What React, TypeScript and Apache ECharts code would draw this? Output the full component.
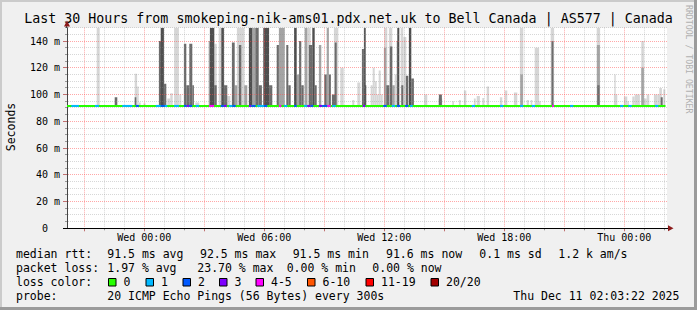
import React, { useEffect, useRef } from 'react';
import * as echarts from 'echarts';

const FONT = "'DejaVu Sans Mono', monospace";
const TITLE = 'Last 30 Hours from smokeping-nik-ams01.pdx.net.uk to Bell Canada | AS577 | Canada';

// x values are hours relative to Wed 00:00
const X_MIN = -3.865;
const X_MAX = 26.135;
const Y_MAX = 150;
const SMOKE_BASE = 91;

const xLabelHours = [0, 6, 12, 18, 24];
const xLabelTexts = ['Wed 00:00', 'Wed 06:00', 'Wed 12:00', 'Wed 18:00', 'Thu 00:00'];
const hourGrid = [-3, -2, -1, 0, 1, 2, 3, 4, 5, 6, 7, 8, 9, 10, 11, 12, 13, 14, 15, 16, 17, 18, 19, 20, 21, 22, 23, 24, 25, 26];
const msGrid = [0, 5, 10, 15, 20, 25, 30, 35, 40, 45, 50, 55, 60, 65, 70, 75, 80, 85, 90, 95, 100, 105, 110, 115, 120, 125, 130, 135, 140, 145, 150];

// median rtt (ms)
const medianRange = [-3.865, 26.06];
const medianValue = 91.5;

// smoke: [startHour, endHour, topMs]
const lightSmoke = [
  [-2.38, -2.23, 150], [-0.48, -0.36, 115.5], [-0.36, -0.28, 106], [-0.27, -0.18, 94], [-0.04, 0.06, 93.5],
  [1.15, 1.3, 97], [1.3, 1.42, 101], [1.49, 1.73, 150], [1.75, 1.85, 100], [2.55, 2.75, 94],
  [3.5, 3.62, 138], [3.72, 3.85, 150], [4.15, 4.3, 99], [4.63, 5.0, 150], [8.15, 8.32, 150],
  [9.48, 9.7, 150], [9.8, 9.97, 120], [10.4, 10.5, 96], [10.65, 10.8, 109],
  [11.32, 11.42, 107], [11.42, 11.52, 120], [11.52, 11.62, 110], [11.62, 11.72, 100], [11.72, 11.82, 118], [11.82, 11.92, 100],
  [12.0, 12.15, 150], [12.23, 12.4, 150], [12.52, 12.62, 115], [12.82, 12.95, 150], [12.95, 13.1, 143],
  [14.0, 14.15, 100], [14.7, 14.9, 97], [15.4, 15.48, 95], [15.73, 15.82, 96], [15.98, 16.1, 103],
  [16.48, 16.57, 97], [16.62, 16.78, 99], [16.9, 16.99, 97.5], [17.12, 17.24, 106], [17.78, 17.9, 98],
  [18.02, 18.15, 103], [18.48, 18.65, 101.5], [18.78, 18.95, 150], [19.12, 19.23, 96], [19.32, 19.4, 96],
  [19.52, 19.74, 135], [19.74, 19.82, 95], [20.32, 20.49, 150], [22.62, 22.79, 150],
  [23.48, 23.65, 100], [23.5, 23.57, 115], [23.98, 24.15, 98.5], [24.15, 24.23, 95], [24.4, 24.52, 98.5],
  [24.52, 24.78, 100], [24.85, 24.98, 140], [24.98, 25.12, 97], [25.12, 25.25, 100], [25.48, 25.65, 100],
  [25.65, 25.78, 100], [25.75, 25.88, 105], [25.95, 26.05, 104],
];
const midSmoke = [
  [3.22, 3.3, 140], [4.52, 4.65, 107], [5.0, 5.15, 107], [5.4, 5.55, 150], [6.73, 7.02, 150],
  [7.62, 7.74, 115], [8.02, 8.15, 150], [8.73, 8.85, 137], [9.12, 9.23, 150], [11.98, 12.1, 135],
  [12.4, 12.52, 107], [12.62, 12.73, 140], [18.8, 18.93, 115], [22.63, 22.78, 137], [24.85, 24.98, 120],
];
const darkSmoke = [
  [-1.48, -1.35, 98], [-0.48, -0.4, 98], [0.73, 0.85, 140], [0.98, 1.1, 108],
  [1.98, 2.1, 138], [2.1, 2.25, 107], [2.25, 2.4, 138], [2.4, 2.48, 107],
  [3.5, 3.62, 107], [3.98, 4.15, 107], [4.38, 4.52, 139], [4.73, 4.85, 137],
  [5.55, 5.72, 150], [5.72, 5.88, 107], [6.24, 6.4, 107], [6.62, 6.73, 137],
  [7.1, 7.2, 137], [7.2, 7.32, 107], [7.74, 7.85, 140], [7.85, 7.97, 107],
  [8.23, 8.4, 137], [8.52, 8.62, 107], [9.0, 9.12, 115], [9.23, 9.33, 115], [9.38, 9.55, 100],
  [9.52, 9.62, 139], [10.88, 10.98, 134], [11.0, 11.1, 107], [12.1, 12.25, 107], [12.28, 12.4, 136],
  [12.85, 12.95, 107], [13.08, 13.2, 114], [13.35, 13.48, 112], [14.73, 14.88, 100],
  [20.36, 20.46, 140], [22.65, 22.76, 107], [25.82, 25.92, 98],
];
const darkestSmoke = [
  [0.82, 0.98, 150], [3.28, 3.5, 150], [3.85, 3.98, 150], [5.23, 5.4, 150], [5.95, 6.24, 150],
  [7.49, 7.62, 150], [8.4, 8.52, 150], [10.98, 11.07, 150], [12.65, 12.75, 150], [13.23, 13.35, 150],
];

// loss colour segments on the median line: [startHour, endHour, lossClass]
const lossSegments = [
  [-3.65, -3.27, 1], [-2.47, -2.27, 1], [-1.1, -0.6, 1], [-0.43, -0.27, 2], [0.57, 0.82, 1], [0.82, 1.03, 2],
  [1.03, 1.15, 1], [1.49, 1.73, 1], [1.98, 2.12, 2], [2.12, 2.24, 3], [2.24, 2.4, 2], [2.57, 2.74, 1],
  [3.24, 3.49, 4], [3.82, 3.98, 2], [3.98, 4.12, 3], [4.23, 4.4, 1], [4.4, 4.57, 2], [5.23, 5.35, 3],
  [5.35, 5.57, 2], [5.65, 5.98, 1], [5.98, 6.15, 2], [6.73, 6.85, 4], [6.98, 7.15, 1], [7.49, 7.62, 2],
  [7.99, 8.15, 1], [8.15, 8.32, 3], [8.32, 8.45, 2], [8.73, 8.9, 3], [8.9, 9.15, 2], [9.15, 9.32, 4],
  [9.4, 9.57, 1], [10.92, 11.05, 3], [11.95, 12.12, 2], [12.37, 12.54, 1], [12.62, 12.79, 2],
  [13.04, 13.2, 2], [13.29, 13.42, 1], [16.37, 16.54, 1], [17.79, 17.95, 1], [18.79, 18.95, 1],
  [19.37, 19.54, 1], [20.39, 20.49, 4], [21.29, 21.45, 1], [23.79, 23.95, 1], [24.2, 24.37, 1], [25.54, 25.7, 1],
];

const lossLabels = ['0', '1', '2', '3', '4-5', '6-10', '11-19', '20/20'];
const lossColors = ['#26ff00', '#00b8ff', '#0059ff', '#7e00ff', '#ff00ff', '#ff5500', '#ff0000', '#a10000'];

const rttStats = ['91.5 ms avg', '92.5 ms max', '91.5 ms min', '91.6 ms now', '0.1 ms sd', '1.2 k am/s'];
const lossStats = ['1.97 % avg', '23.70 % max', '0.00 % min', '0.00 % now'];
const probeText = '20 ICMP Echo Pings (56 Bytes) every 300s';
const stampText = 'Thu Dec 11 02:03:22 2025';

const SHADES = { light: '#d6d6d6', mid: '#a4a4a4', dark: '#6c6c6c', darkest: '#4f4f4f' };
const RED_GRID = 'rgba(255,80,80,0.5)';
const GREY_GRID = 'rgba(140,140,140,0.35)';

function smokeRender(color: string) {
  return (params: any, api: any) => {
    const t0 = api.value(0);
    const t1 = api.value(1);
    const top = Math.min(api.value(2), Y_MAX);
    const a = api.coord([t0, top]);
    const b = api.coord([t1, SMOKE_BASE]);
    return {
      type: 'rect',
      shape: { x: a[0], y: a[1], width: b[0] - a[0], height: b[1] - a[1] },
      style: { fill: color },
    };
  };
}

export default function App() {
  const ref = useRef<HTMLDivElement>(null);
  useEffect(() => {
    if (!ref.current) return;
    const chart = echarts.init(ref.current, undefined, { renderer: 'svg' });

    const rttX = [107.3, 200, 292.7, 386, 479.3, 558.3];
    const lossX = [107.3, 197.3, 286.7, 372.3];
    const boxX = [108.5, 146, 183, 219.5, 256, 307.5, 366, 431];
    const textStyle = (x: number, y: number, text: string, extra: any = {}) => ({
      type: 'text',
      x,
      y,
      silent: true,
      style: {
        text,
        font: `11.5px ${FONT}`,
        fill: '#000',
        textAlign: 'left',
        textVerticalAlign: 'middle',
        align: 'left',
        verticalAlign: 'middle',
        ...extra,
      },
    });

    const graphics: any[] = [
      // frame
      { type: 'rect', shape: { x: 0, y: 0, width: 697, height: 2 }, style: { fill: '#cbcbcb' }, silent: true },
      { type: 'rect', shape: { x: 0, y: 0, width: 2, height: 310 }, style: { fill: '#cbcbcb' }, silent: true },
      { type: 'rect', shape: { x: 0, y: 307, width: 697, height: 3 }, style: { fill: '#9b9b9b' }, silent: true },
      { type: 'rect', shape: { x: 694, y: 0, width: 3, height: 310 }, style: { fill: '#9b9b9b' }, silent: true },
      // axis extensions and arrows
      { type: 'line', shape: { x1: 66.5, y1: 22, x2: 66.5, y2: 28 }, style: { stroke: '#444', lineWidth: 1 }, silent: true, z: 10 },
      { type: 'line', shape: { x1: 63, y1: 228.5, x2: 669, y2: 228.5 }, style: { stroke: '#000', lineWidth: 1 }, silent: true, z: 10 },
      { type: 'polygon', shape: { points: [[668, 225.3], [673.5, 228.3], [668, 231.3]] }, style: { fill: '#8b1a1a' }, silent: true, z: 10 },
      { type: 'polygon', shape: { points: [[64, 26.5], [67, 20.5], [70, 26.5]] }, style: { fill: '#8b1a1a' }, silent: true, z: 10 },
      // vertical texts
      {
        type: 'text', x: 688.5, y: 5, rotation: -Math.PI / 2, silent: true,
        style: { text: 'RRDTOOL / TOBI OETIKER', font: `8.2px ${FONT}`, fill: '#b0b0b0', textAlign: 'left', textVerticalAlign: 'middle', align: 'left', verticalAlign: 'middle' },
      },
      {
        type: 'text', x: 10.5, y: 127, rotation: Math.PI / 2, silent: true,
        style: { text: 'Seconds', font: `11.5px ${FONT}`, fill: '#000', textAlign: 'center', textVerticalAlign: 'middle', align: 'center', verticalAlign: 'middle' },
      },
      textStyle(16, 254, 'median rtt:'),
      textStyle(16, 268.3, 'packet loss:'),
      textStyle(16, 282.3, 'loss color:'),
      textStyle(16, 295.7, 'probe:'),
      textStyle(107.3, 295.7, probeText),
      textStyle(513.3, 295.7, stampText),
    ];
    rttStats.forEach((s, i) => graphics.push(textStyle(rttX[i], 254, s)));
    lossStats.forEach((s, i) => graphics.push(textStyle(lossX[i], 268.3, s)));
    lossLabels.forEach((s, i) => {
      graphics.push({
        type: 'rect', silent: true,
        shape: { x: boxX[i], y: 278.5, width: 7.5, height: 7.5 },
        style: { fill: lossColors[i], stroke: '#000', lineWidth: 1 },
      });
      graphics.push(textStyle(boxX[i] + 15, 282.3, s));
    });

    const option: any = {
      animation: false,
      backgroundColor: '#f0f0f0',
      title: {
        text: TITLE,
        left: 'center',
        top: 12,
        padding: 0,
        textStyle: { fontFamily: FONT, fontSize: 13.3, fontWeight: 'normal', color: '#000' },
      },
      grid: { left: 67, right: 30, top: 27.7, bottom: 81.7, show: true, backgroundColor: '#ffffff', borderWidth: 0 },
      xAxis: {
        type: 'value',
        min: X_MIN,
        max: X_MAX,
        axisLine: { show: true, onZero: false, lineStyle: { color: '#000', width: 1 } },
        axisTick: { show: false },
        splitLine: { show: false },
        axisLabel: {
          customValues: xLabelHours,
          formatter: (v: number) => {
            const i = xLabelHours.findIndex((h) => Math.abs(h - v) < 0.01);
            return i >= 0 ? xLabelTexts[i] : '';
          },
          fontFamily: FONT,
          fontSize: 10,
          color: '#000',
          margin: 4,
        },
      },
      yAxis: {
        type: 'value',
        min: 0,
        max: Y_MAX,
        interval: 20,
        axisLine: { show: true, onZero: false, lineStyle: { color: '#444', width: 1 } },
        axisTick: { show: false },
        splitLine: { show: false },
        axisLabel: {
          showMaxLabel: false,
          formatter: (v: number) => (v === 0 ? '{z|0}' : `${v} m`),
          rich: { z: { fontFamily: FONT, fontSize: 10, color: '#000', padding: [0, 12, 0, 0] } },
          fontFamily: FONT,
          fontSize: 10,
          color: '#000',
          margin: 7,
        },
      },
      graphic: graphics,
      series: [
        { type: 'custom', name: 'smoke light', data: lightSmoke, encode: { x: [0, 1], y: 2 }, renderItem: smokeRender(SHADES.light), clip: true, silent: true },
        { type: 'custom', name: 'smoke mid', data: midSmoke, encode: { x: [0, 1], y: 2 }, renderItem: smokeRender(SHADES.mid), clip: true, silent: true },
        { type: 'custom', name: 'smoke dark', data: darkSmoke, encode: { x: [0, 1], y: 2 }, renderItem: smokeRender(SHADES.dark), clip: true, silent: true },
        { type: 'custom', name: 'smoke darkest', data: darkestSmoke, encode: { x: [0, 1], y: 2 }, renderItem: smokeRender(SHADES.darkest), clip: true, silent: true },
        {
          type: 'custom', name: 'vgrid', silent: true,
          data: hourGrid.map((h) => [h]),
          encode: { x: 0 },
          renderItem: (params: any, api: any) => {
            const h = api.value(0);
            const major = Math.abs(Math.round(h)) % 3 === 0;
            const t = api.coord([h, Y_MAX]);
            const b = api.coord([h, 0]);
            const x = Math.floor(t[0]) + 0.5;
            return {
              type: 'group',
              children: [
                { type: 'line', shape: { x1: x, y1: t[1], x2: x, y2: b[1] - 1 }, style: { stroke: major ? RED_GRID : GREY_GRID, lineWidth: 1, lineDash: [1, 1] } },
                { type: 'line', shape: { x1: x, y1: b[1], x2: x, y2: b[1] + (major ? 3 : 2) }, style: { stroke: major ? '#c07070' : '#999', lineWidth: 1 } },
              ],
            };
          },
        },
        {
          type: 'custom', name: 'hgrid', silent: true,
          data: msGrid.map((v) => [X_MIN, v]),
          encode: { x: 0, y: 1 },
          renderItem: (params: any, api: any) => {
            const v = api.value(1);
            const major = v % 20 === 0;
            const l = api.coord([X_MIN, v]);
            const r = api.coord([X_MAX, v]);
            const y = Math.floor(l[1]) + 0.5;
            const children: any[] = [
              { type: 'line', shape: { x1: l[0] - (major ? 4 : 2), y1: y, x2: l[0], y2: y }, style: { stroke: major ? '#c07070' : '#999', lineWidth: 1 } },
            ];
            if (v > 0) children.push({ type: 'line', shape: { x1: l[0] + 1, y1: y, x2: r[0], y2: y }, style: { stroke: major ? RED_GRID : GREY_GRID, lineWidth: 1, lineDash: [1, 1] } });
            return { type: 'group', children };
          },
        },
        {
          type: 'line', name: 'median rtt', silent: true, symbol: 'none',
          data: [[medianRange[0], medianValue], [medianRange[1], medianValue]],
          lineStyle: { color: lossColors[0], width: 2 },
          z: 3,
        },
        {
          type: 'custom', name: 'loss', silent: true, z: 4,
          data: lossSegments,
          encode: { x: [0, 1] },
          renderItem: (params: any, api: any) => {
            const a = api.coord([api.value(0), medianValue]);
            const b = api.coord([api.value(1), medianValue]);
            return { type: 'rect', shape: { x: a[0], y: a[1] - 1, width: b[0] - a[0], height: 2 }, style: { fill: lossColors[api.value(2)] } };
          },
        },
      ],
    };
    chart.setOption(option);
    return () => chart.dispose();
  }, []);
  return <div ref={ref} style={{ position: 'fixed', left: 0, top: 0, width: 697, height: 310 }} />;
}
